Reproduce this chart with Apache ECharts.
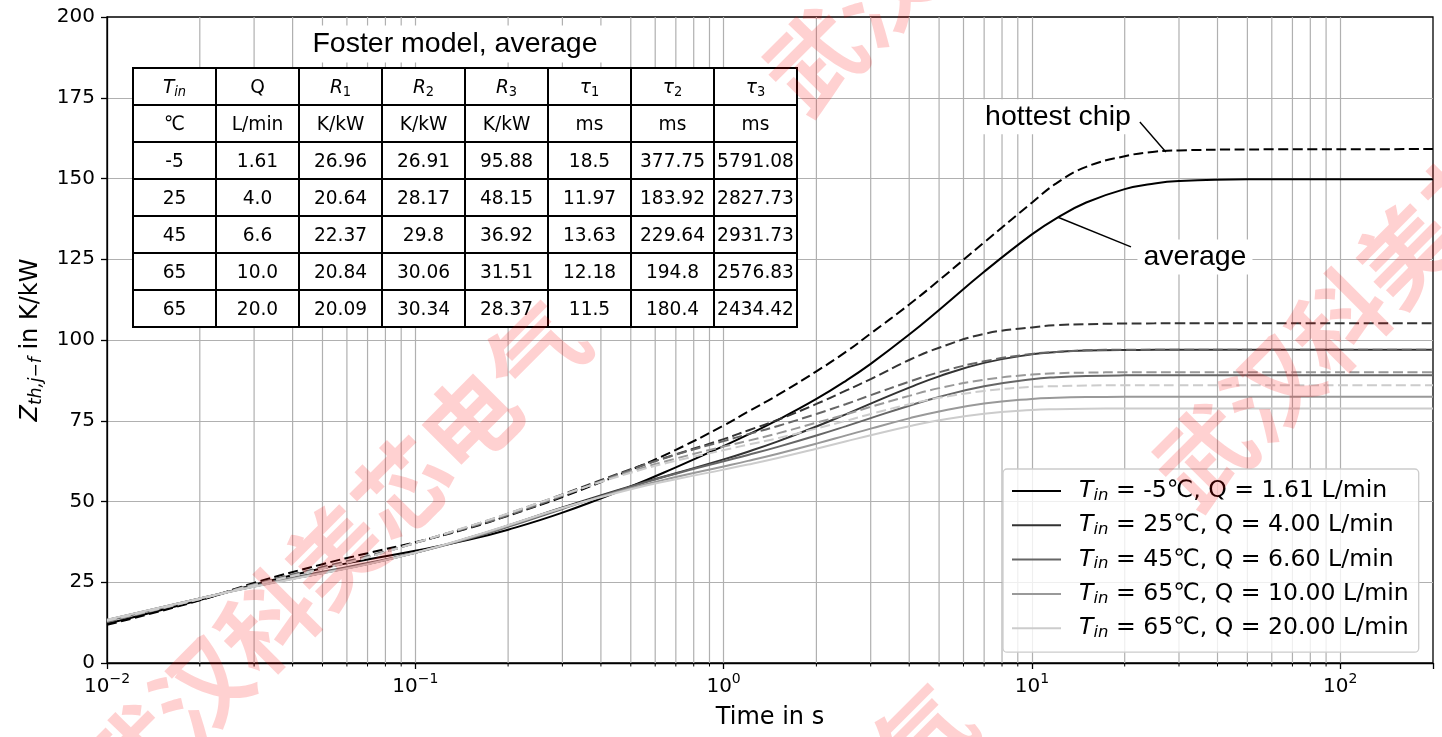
<!DOCTYPE html>
<html>
<head>
<meta charset="utf-8">
<title>Transient thermal impedance Zth,j-f</title>
<script src="https://cdn.jsdelivr.net/npm/echarts@6/dist/echarts.min.js"></script>
<style>
  html, body { margin: 0; padding: 0; background: #ffffff; }
  #chart { width: 1442px; height: 737px; }
</style>
</head>
<body>
<div id="chart"></div>
<script>
// Sample times in s
const times = [0.01, 0.02, 0.03, 0.05, 0.07, 0.1, 0.15, 0.2, 0.3, 0.5, 0.7, 1, 1.2, 1.5, 2, 2.5, 3, 4, 5, 7, 10, 12, 15, 20, 25, 30, 50, 200];

// Zth,j-f in K/kW, average over all chips (solid lines)
const zAvgM5  = [12.13, 19.53, 24.20, 29.31, 32.05, 34.74, 38.22, 41.28, 46.55, 54.64, 60.57, 67.17, 70.69, 75.24, 81.74, 87.45, 92.62, 101.70, 109.32, 121.12, 132.69, 137.68, 142.56, 146.72, 148.47, 149.21, 149.73, 149.75];
const zAvg25  = [13.35, 20.00, 23.71, 27.87, 30.68, 34.12, 38.84, 42.60, 48.15, 54.76, 58.74, 63.03, 65.42, 68.62, 73.22, 77.07, 80.30, 85.26, 88.75, 92.91, 95.56, 96.27, 96.72, 96.92, 96.95, 96.96, 96.96, 96.96];
const zAvg45  = [13.03, 19.95, 23.92, 28.25, 30.94, 34.12, 38.51, 42.14, 47.69, 54.58, 58.60, 62.46, 64.41, 66.92, 70.43, 73.35, 75.82, 79.66, 82.38, 85.70, 87.87, 88.47, 88.87, 89.05, 89.08, 89.09, 89.09, 89.09];
const zAvg65a = [13.29, 19.98, 23.72, 27.92, 30.69, 34.10, 38.76, 42.48, 47.92, 54.15, 57.57, 60.86, 62.57, 64.80, 67.91, 70.47, 72.57, 75.74, 77.89, 80.33, 81.76, 82.11, 82.32, 82.40, 82.41, 82.41, 82.41, 82.41];
const zAvg65b = [13.43, 19.98, 23.61, 27.76, 30.60, 34.14, 38.92, 42.66, 47.97, 53.80, 56.89, 59.87, 61.43, 63.47, 66.33, 68.64, 70.53, 73.31, 75.16, 77.20, 78.33, 78.59, 78.74, 78.79, 78.80, 78.80, 78.80, 78.80];

// Zth,j-f in K/kW, hottest chip (dashed lines)
const zHotM5  = [11.8, 19.4, 24.8, 30.6, 34.0, 37.4, 41.8, 45.6, 51.4, 59.8, 66.0, 73.5, 77.8, 83.0, 90.3, 96.4, 102.0, 111.0, 118.5, 130.2, 142.5, 148.5, 153.6, 156.9, 158.3, 158.7, 159.0, 159.1];
const zHot25  = [13.0, 19.8, 24.2, 29.3, 32.8, 37.2, 42.3, 46.2, 52.2, 60.0, 64.6, 69.3, 72.0, 75.3, 80.2, 84.4, 87.9, 93.8, 97.6, 101.9, 103.9, 104.6, 104.9, 105.1, 105.15, 105.2, 105.2, 105.2];
const zHot45  = [12.7, 19.8, 24.4, 29.7, 33.1, 37.2, 42.0, 45.7, 51.7, 59.8, 64.5, 68.7, 70.85, 73.4, 77.1, 80.2, 82.9, 87.1, 90.0, 93.4, 95.7, 96.3, 96.8, 97.0, 97.0, 97.0, 97.0, 97.0];
const zHot65a = [13.0, 19.8, 24.2, 29.3, 32.8, 37.2, 42.3, 46.1, 52.0, 59.3, 63.3, 67.0, 68.8, 71.1, 74.4, 77.0, 79.3, 82.7, 85.1, 87.7, 89.3, 89.7, 89.9, 90.0, 90.0, 90.0, 90.0, 90.0];
const zHot65b = [13.1, 19.8, 24.1, 29.2, 32.7, 37.2, 42.4, 46.3, 52.1, 58.9, 62.6, 65.9, 67.6, 69.6, 72.6, 75.0, 77.1, 80.1, 82.1, 84.2, 85.5, 85.7, 85.9, 86.0, 86.0, 86.0, 86.0, 86.0];

// Operating points
const inletTemps = ['-5', '25', '45', '65', '65'];
const flowRates = ['1.61', '4.00', '6.60', '10.00', '20.00'];
const lineColors = ['#000000', '#333333', '#666666', '#999999', '#cccccc'];

// Foster network parameters (average)
const fosterHead = ['{i|T}{si|in}', 'Q', '{i|R}{s|1}', '{i|R}{s|2}', '{i|R}{s|3}', '{i|τ}{s|1}', '{i|τ}{s|2}', '{i|τ}{s|3}'];
const fosterUnits = ['℃', 'L/min', 'K/kW', 'K/kW', 'K/kW', 'ms', 'ms', 'ms'];
const fosterRows = [
  ['-5', '1.61', '26.96', '26.91', '95.88', '18.5', '377.75', '5791.08'],
  ['25', '4.0', '20.64', '28.17', '48.15', '11.97', '183.92', '2827.73'],
  ['45', '6.6', '22.37', '29.8', '36.92', '13.63', '229.64', '2931.73'],
  ['65', '10.0', '20.84', '30.06', '31.51', '12.18', '194.8', '2576.83'],
  ['65', '20.0', '20.09', '30.34', '28.37', '11.5', '180.4', '2434.42']
];

// Minor decade ticks of the time axis
const xMinorTicks = [0.02, 0.03, 0.04, 0.05, 0.06, 0.07, 0.08, 0.09,
  0.2, 0.3, 0.4, 0.5, 0.6, 0.7, 0.8, 0.9,
  2, 3, 4, 5, 6, 7, 8, 9,
  20, 30, 40, 50, 60, 70, 80, 90];

// Annotations (data coordinates)
const hotLabelAt = [12.15, 169.1];
const hotLeader = [[22.4, 167.5], [27.2, 158.2]];
const avgLabelAt = [33.8, 125.7];
const avgLeader = [[20.96, 128.8], [12.15, 138.0]];

const FONT = 'DejaVu Sans';
const avgSets = [zAvgM5, zAvg25, zAvg45, zAvg65a, zAvg65b];
const hotSets = [zHotM5, zHot25, zHot45, zHot65a, zHot65b];
const seriesKeys = inletTemps.map((t, i) => 'Tin' + t + '_Q' + flowRates[i]);

const legendText = i => '{gap|}{i|T}{s|in}{n| = ' + inletTemps[i] + '℃, Q = ' + flowRates[i] + ' L/min}';

function powLabel(v) {
  const e = Math.log10(v);
  const r = Math.round(e);
  if (Math.abs(e - r) > 1e-6) return '';
  return '10{sup|' + (r < 0 ? '−' + (-r) : String(r)) + '}';
}

const series = [];

// minor vertical grid lines and minor ticks
series.push({
  type: 'custom',
  name: 'minorGrid',
  silent: true,
  z: 1,
  clip: false,
  data: xMinorTicks.map(v => [v, 0]),
  renderItem: (params, api) => {
    const x = api.value(0);
    const top = api.coord([x, 200]);
    const bot = api.coord([x, 0]);
    return {
      type: 'group',
      children: [
        { type: 'line', shape: { x1: top[0], y1: top[1], x2: bot[0], y2: bot[1] }, style: { stroke: '#b0b0b0', lineWidth: 1.2 } },
        { type: 'line', shape: { x1: bot[0], y1: bot[1], x2: bot[0], y2: bot[1] + 3.5 }, style: { stroke: '#000', lineWidth: 1 } }
      ]
    };
  }
});

avgSets.forEach((vals, i) => {
  series.push({
    name: seriesKeys[i],
    type: 'line',
    data: times.map((t, j) => [t, vals[j]]),
    symbol: 'none',
    smooth: 0.45,
    z: 3,
    silent: true,
    lineStyle: { color: lineColors[i], width: 2 },
    itemStyle: { color: lineColors[i] }
  });
  series.push({
    name: 'hot_' + seriesKeys[i],
    type: 'line',
    data: times.map((t, j) => [t, hotSets[i][j]]),
    symbol: 'none',
    smooth: 0.45,
    z: 3,
    silent: true,
    lineStyle: { color: lineColors[i], width: 2, type: [10, 4.5] },
    itemStyle: { color: lineColors[i] }
  });
});

// annotation leaders
[hotLeader, avgLeader].forEach(seg => {
  series.push({
    type: 'line', data: seg, symbol: 'none', silent: true, z: 4,
    lineStyle: { color: '#000', width: 1.4 }
  });
});

// annotation texts
[[hotLabelAt, 'hottest chip'], [avgLabelAt, 'average']].forEach(([pt, txt]) => {
  series.push({
    type: 'scatter', data: [pt], symbolSize: 1, silent: true, z: 5,
    itemStyle: { color: 'transparent', opacity: 1 },
    label: {
      show: true, position: 'inside', formatter: txt, opacity: 1,
      fontFamily: 'Liberation Sans', fontSize: 28.5, color: '#000000',
      backgroundColor: '#ffffff', padding: [3, 6]
    }
  });
});

// table of Foster parameters
const tableRows = [fosterHead, fosterUnits].concat(fosterRows);
const colW = 83, rowH = 37;
const tableRich = {
  i: { fontStyle: 'italic', fontFamily: FONT, fontSize: 20, lineHeight: 24, fill: '#000' },
  s: { fontFamily: FONT, fontSize: 14, lineHeight: 14, verticalAlign: 'bottom', fill: '#000' },
  si: { fontStyle: 'italic', fontFamily: FONT, fontSize: 14, lineHeight: 14, verticalAlign: 'bottom', fill: '#000' }
};
const tableChildren = [];
tableRows.forEach((row, r) => row.forEach((txt, c) => {
  tableChildren.push({
    type: 'rect', z: 10,
    shape: { x: c * colW, y: r * rowH, width: colW, height: rowH },
    style: { fill: '#ffffff', stroke: '#000000', lineWidth: 2 }
  });
}));
tableRows.forEach((row, r) => row.forEach((txt, c) => {
  tableChildren.push({
    type: 'text', z: 11,
    x: c * colW + colW / 2, y: r * rowH + rowH / 2 + 1,
    scaleX: 0.93,
    style: {
      text: txt, fill: '#000', fontFamily: FONT, fontSize: 20, lineHeight: 24,
      align: 'center', verticalAlign: 'middle', rich: tableRich
    }
  });
}));

// watermark
const markText = '武汉科美芯电气';
const markStarts = [[100, 790], [781, 94], [1171, 489], [487, 1173]];
const watermark = markStarts.map(p => ({
  type: 'text', z: 100, silent: true,
  x: p[0], y: p[1], rotation: Math.PI / 4,
  style: {
    text: markText, fontFamily: 'Noto Sans CJK SC', fontWeight: 'bold', fontSize: 95,
    fill: 'rgba(255, 0, 0, 0.18)', align: 'left', verticalAlign: 'middle'
  }
}));

const chart = echarts.init(document.getElementById('chart'), null, { renderer: 'canvas' });
chart.setOption({
  animation: false,
  backgroundColor: '#ffffff',
  textStyle: { fontFamily: FONT },
  grid: {
    left: 107, right: 9, top: 17, bottom: 74,
    show: true, borderColor: '#000', borderWidth: 1.3, backgroundColor: 'transparent',
    containLabel: false, outerBoundsMode: 'none'
  },
  xAxis: {
    type: 'log', logBase: 10, min: 0.01, max: 200,
    name: 'Time in s', nameLocation: 'middle', nameGap: 43, nameMoveOverlap: false,
    nameTextStyle: { fontFamily: FONT, fontSize: 24, color: '#000' },
    axisLine: { show: true, onZero: false, lineStyle: { color: '#000', width: 1.3 } },
    axisTick: { show: true, inside: false, length: 6, lineStyle: { color: '#000', width: 1.3 } },
    axisLabel: {
      show: true, margin: 9, color: '#000', fontFamily: FONT, fontSize: 20, lineHeight: 30,
      formatter: powLabel,
      rich: { sup: { fontFamily: FONT, fontSize: 14, lineHeight: 14, verticalAlign: 'top', color: '#000' } }
    },
    splitLine: { show: true, showMinLine: false, showMaxLine: false, lineStyle: { color: '#b0b0b0', width: 1.2 } }
  },
  yAxis: {
    type: 'value', min: 0, max: 200, interval: 25,
    name: '{z|Z}{s|th,j−f}{n| in K/kW}', nameLocation: 'middle', nameGap: 62, nameRotate: 90, nameMoveOverlap: false,
    nameTextStyle: {
      fontFamily: FONT, fontSize: 24, color: '#000',
      rich: {
        z: { fontStyle: 'italic', fontFamily: FONT, fontSize: 24, lineHeight: 28, color: '#000' },
        s: { fontStyle: 'italic', fontFamily: FONT, fontSize: 17, lineHeight: 17, verticalAlign: 'bottom', color: '#000' },
        n: { fontFamily: FONT, fontSize: 24, lineHeight: 28, color: '#000' }
      }
    },
    axisLine: { show: true, lineStyle: { color: '#000', width: 1.3 } },
    axisTick: { show: true, inside: false, length: 6, lineStyle: { color: '#000', width: 1.3 } },
    axisLabel: { margin: 12, color: '#000', fontFamily: FONT, fontSize: 20 },
    splitLine: { show: true, showMinLine: false, showMaxLine: false, lineStyle: { color: '#b0b0b0', width: 1.2 } }
  },
  legend: {
    data: seriesKeys,
    orient: 'vertical', left: 1003, top: 469,
    icon: 'rect', itemWidth: 49, itemHeight: 2, itemGap: 8.3,
    padding: [9, 10, 11, 9],
    backgroundColor: 'rgba(255,255,255,0.8)', borderColor: '#cccccc', borderWidth: 1.3, borderRadius: 4,
    selectedMode: false,
    formatter: name => legendText(seriesKeys.indexOf(name)),
    textStyle: {
      fontFamily: FONT, fontSize: 23.6, color: '#000', lineHeight: 26,
      rich: {
        gap: { width: 13 },
        i: { fontStyle: 'italic', fontFamily: FONT, fontSize: 23.6, lineHeight: 26, color: '#000' },
        s: { fontStyle: 'italic', fontFamily: FONT, fontSize: 16.5, lineHeight: 16, verticalAlign: 'bottom', color: '#000' },
        n: { fontFamily: FONT, fontSize: 23.6, lineHeight: 26, color: '#000' }
      }
    }
  },
  graphic: {
    elements: [
      {
        type: 'text', z: 10, x: 455, y: 44,
        style: {
          text: 'Foster model, average', fontFamily: 'Liberation Sans', fontSize: 28.5, fill: '#000',
          align: 'center', verticalAlign: 'middle', backgroundColor: '#ffffff', padding: [4, 8]
        }
      },
      { type: 'group', x: 133, y: 68, children: tableChildren }
    ].concat(watermark)
  },
  series: series
});
</script>
</body>
</html>
